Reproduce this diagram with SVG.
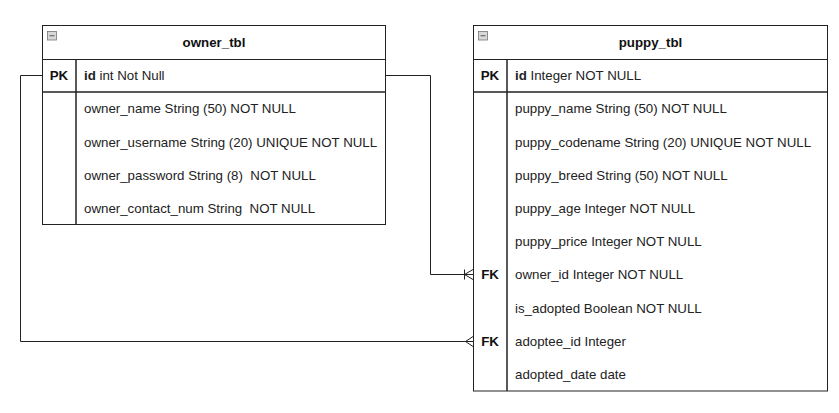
<svg xmlns="http://www.w3.org/2000/svg" width="839" height="413" viewBox="0 0 839 413">
<style>
.box{fill:#fff;stroke:#222;stroke-width:1}
.ln{stroke:#222;stroke-width:1;fill:none}
.dv{stroke:#222;stroke-width:1.5;fill:none}
.t{font-family:"Liberation Sans",Arial,sans-serif;font-size:13.3px;fill:#222}
.b{font-weight:bold}
.title{font-family:"Liberation Sans",Arial,sans-serif;font-size:13.3px;font-weight:bold;fill:#111;text-anchor:middle}
.k{font-family:"Liberation Sans",Arial,sans-serif;font-size:13.3px;font-weight:bold;fill:#111;text-anchor:middle}
.ic{fill:#d8d8d8;stroke:#777;stroke-width:0.8}
</style>
<rect width="839" height="413" fill="#fff"/>
<g id="connectors">
  <path class="ln" d="M385.5,75.5 H430.5 V274.5 H473"/>
  <path class="ln" d="M464.5,269.5 V279.5 M464.5,274.5 L473,269.5 M464.5,274.5 L473,279.5"/>
  <path class="ln" d="M42.5,75.5 H20.5 V341.5 H473"/>
  <path class="ln" d="M465.5,341.5 L473,336.5 M465.5,341.5 L473,346.5"/>
</g>
<g id="owner_tbl">
  <rect class="box" x="42.5" y="25.5" width="343" height="199"/>
  <line class="ln" x1="42.5" y1="59.5" x2="385.5" y2="59.5"/>
  <line class="dv" x1="42.5" y1="92" x2="385.5" y2="92"/>
  <line class="dv" x1="76" y1="59.5" x2="76" y2="224.5"/>
  <rect class="ic" x="47.5" y="31.5" width="9" height="8.5"/>
  <line x1="49.5" y1="35.75" x2="54.5" y2="35.75" stroke="#555" stroke-width="1"/>
  <text class="title" x="214" y="47">owner_tbl</text>
  <text class="k" x="59" y="80">PK</text>
  <text class="t" x="84" y="80"><tspan class="b">id</tspan> int Not Null</text>
  <text class="t" x="84" y="113">owner_name String (50) NOT NULL</text>
  <text class="t" x="84" y="146.5">owner_username String (20) UNIQUE NOT NULL</text>
  <text class="t" x="84" y="179.5" xml:space="preserve">owner_password String (8)  NOT NULL</text>
  <text class="t" x="84" y="213" xml:space="preserve">owner_contact_num String  NOT NULL</text>
</g>
<g id="puppy_tbl">
  <rect class="box" x="473.5" y="25.5" width="354" height="365.5"/>
  <line class="ln" x1="473.5" y1="59.5" x2="827.5" y2="59.5"/>
  <line class="dv" x1="473.5" y1="92" x2="827.5" y2="92"/>
  <line class="dv" x1="507" y1="59.5" x2="507" y2="391"/>
  <rect class="ic" x="478.5" y="31.5" width="9" height="8.5"/>
  <line x1="480.5" y1="35.75" x2="485.5" y2="35.75" stroke="#555" stroke-width="1"/>
  <text class="title" x="650.5" y="47">puppy_tbl</text>
  <text class="k" x="490" y="80">PK</text>
  <text class="t" x="515" y="80"><tspan class="b">id</tspan> Integer NOT NULL</text>
  <text class="t" x="515" y="113">puppy_name String (50) NOT NULL</text>
  <text class="t" x="515" y="146.5">puppy_codename String (20) UNIQUE NOT NULL</text>
  <text class="t" x="515" y="179.5">puppy_breed String (50) NOT NULL</text>
  <text class="t" x="515" y="213">puppy_age Integer NOT NULL</text>
  <text class="t" x="515" y="246">puppy_price Integer NOT NULL</text>
  <text class="k" x="490" y="279">FK</text>
  <text class="t" x="515" y="279">owner_id Integer NOT NULL</text>
  <text class="t" x="515" y="312.5">is_adopted Boolean NOT NULL</text>
  <text class="k" x="490" y="345.5">FK</text>
  <text class="t" x="515" y="345.5">adoptee_id Integer</text>
  <text class="t" x="515" y="379">adopted_date date</text>
</g>
</svg>
